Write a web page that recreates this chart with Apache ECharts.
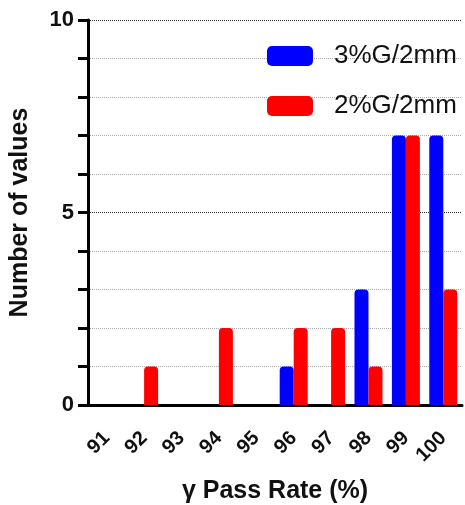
<!DOCTYPE html>
<html><head><meta charset="utf-8">
<script src="https://cdn.jsdelivr.net/npm/echarts@6/dist/echarts.min.js"></script>
<style>html,body{margin:0;padding:0;background:#fff}#c{width:465px;height:505px}</style>
</head><body><div id="c"></div>
<script>
const categories = ['91','92','93','94','95','96','97','98','99','100'];
const series3 = [0,0,0,0,0,1,0,3,7,7];
const series2 = [0,1,0,2,0,2,2,1,7,3];
const seriesNames = ['3%G/2mm','2%G/2mm'];
const yTickLabels = [0,5,10];

const F = 'Liberation Sans, Arial, sans-serif';
const chart = echarts.init(document.getElementById('c'));
chart.setOption({
  animation:false,
  textStyle:{fontFamily:F},
  legend:{
    orient:'vertical', left:267, top:43, itemWidth:46, itemHeight:20, itemGap:24, padding:0,
    icon:'roundRect',
    textStyle:{fontFamily:F, fontSize:26, lineHeight:20, color:'#111', padding:[0,0,0,16]},
    data:seriesNames
  },
  grid:{left:88, right:3, top:20, bottom:100, outerBoundsMode:'none', containLabel:false},
  xAxis:{
    type:'category', data:categories,
    name:'γ Pass Rate (%)', nameLocation:'middle', nameGap:74,
    nameTextStyle:{fontFamily:F, fontWeight:'bold', fontSize:25, color:'#111', verticalAlign:'top'},
    axisLine:{lineStyle:{color:'#000', width:3}},
    axisTick:{alignWithLabel:true, length:11, lineStyle:{width:3, color:'#000'}},
    axisLabel:{rotate:45, fontFamily:F, fontWeight:'bold', fontSize:20, color:'#111', margin:30}
  },
  yAxis:{
    type:'value', min:0, max:10, interval:1,
    name:'Number of values', nameLocation:'middle', nameGap:55, nameRotate:90,
    nameTextStyle:{fontFamily:F, fontWeight:'bold', fontSize:25, color:'#111'},
    axisLine:{show:true, lineStyle:{color:'#000', width:3}},
    axisTick:{show:true, length:10, lineStyle:{width:3, color:'#000'}},
    axisLabel:{fontFamily:F, fontWeight:'bold', fontSize:22, color:'#111', margin:14,
      formatter:v => yTickLabels.includes(v) ? String(v) : ''},
    splitLine:{show:true, lineStyle:{type:'dotted', width:1, color:['#333','#aaa','#aaa','#aaa','#aaa']}}
  },
  series:[
    {name:seriesNames[0], type:'bar', data:series3, barWidth:14, barGap:'0%',
     itemStyle:{color:'#0000ff', borderRadius:[4,4,0,0]}},
    {name:seriesNames[1], type:'bar', data:series2, barWidth:14, barGap:'0%',
     itemStyle:{color:'#ff0000', borderRadius:[4,4,0,0]}}
  ]
});
</script></body></html>
